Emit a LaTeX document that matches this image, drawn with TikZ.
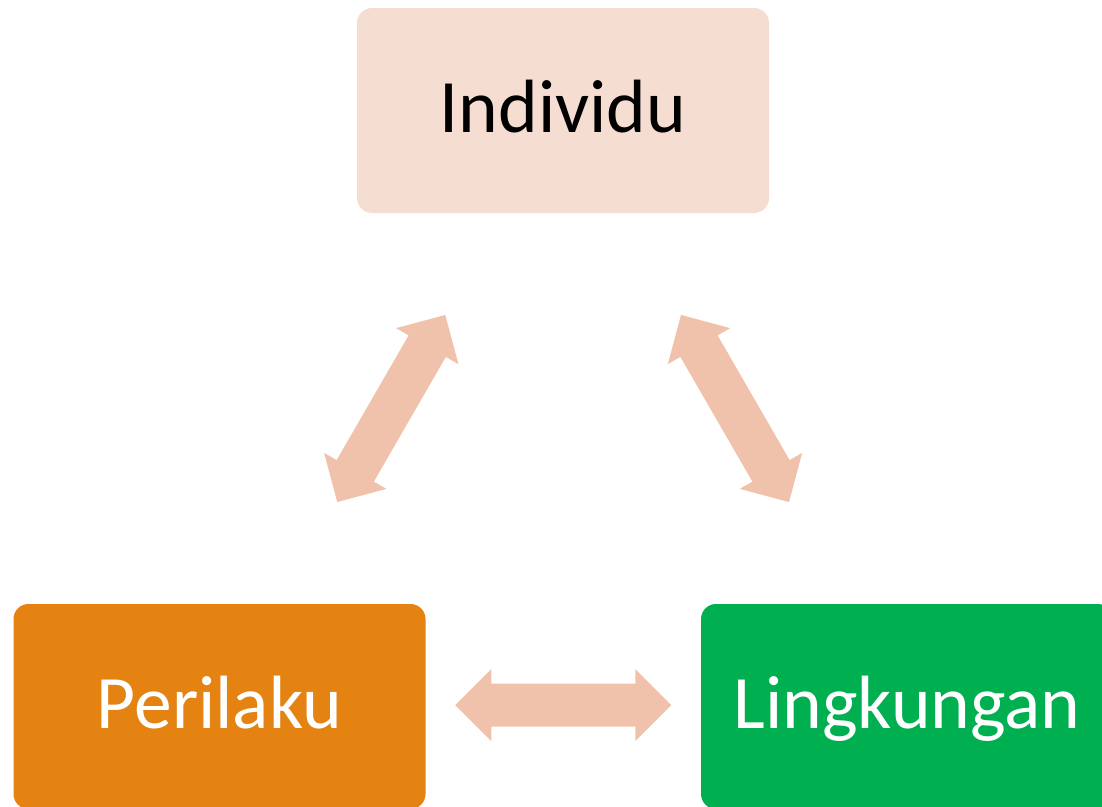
\documentclass[tikz,border=0pt]{standalone}
\usepackage{fontspec}
\setmainfont{Carlito}
\usetikzlibrary{calc}
\definecolor{indfill}{HTML}{F6DDD2}
\definecolor{arrfill}{HTML}{F0C2AB}
\definecolor{perfill}{HTML}{E48312}
\definecolor{linfill}{HTML}{00B050}
\tikzset{
  box/.style={rectangle, rounded corners=15pt, minimum width=412pt, minimum height=205pt,
    inner sep=0pt, text height=44pt, text depth=0pt, font=\fontsize{75.5}{76}\selectfont},
  dbl/.pic={
    \fill[arrfill] (-108,0) -- (-72,36) -- (-72,21.5) -- (72,21.5) -- (72,36) -- (108,0)
      -- (72,-36) -- (72,-21.5) -- (-72,-21.5) -- (-72,-36) -- cycle;
  }
}
\begin{document}
\begin{tikzpicture}[x=1pt,y=-1pt]
\clip (0,0) rectangle (1102,806);
\fill[white] (0,0) rectangle (1102,806);
\node[box, fill=indfill, text=black] (ind) at (563,110.5) {Individu};
\node[box, fill=perfill, text=white] (per) at (219.5,706.5) {Perilaku};
\node[box, fill=linfill, text=white] (lin) at (907,706.5) {Lingkungan};
\pic[rotate=60] at ($(per)!0.5!(ind)$) {dbl};
\pic[rotate=-60] at ($(lin)!0.5!(ind)$) {dbl};
\pic at ($(per)!0.5!(lin)+(0,-1.5)$) {dbl};
\end{tikzpicture}
\end{document}
